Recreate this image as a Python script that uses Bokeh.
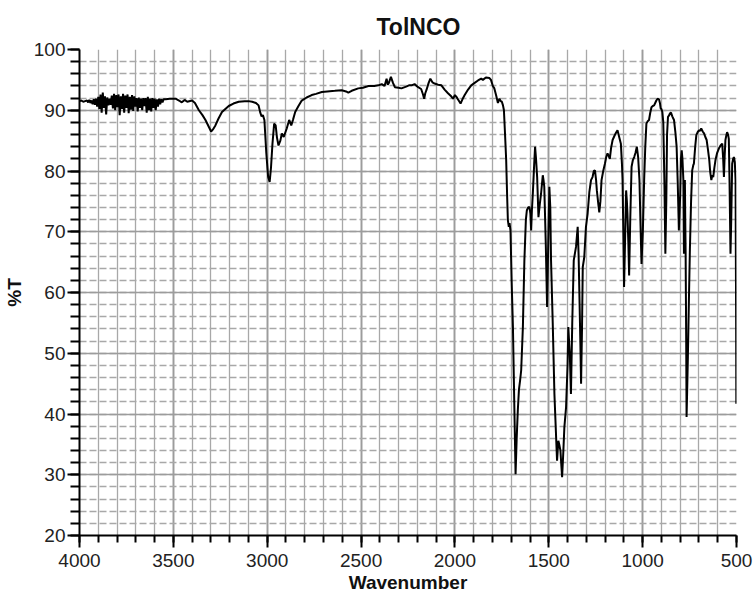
from bokeh.plotting import figure
from bokeh.models import Range1d, SingleIntervalTicker, ColumnDataSource
from bokeh.embed import file_html
from bokeh.resources import INLINE

# Wavenumber (cm-1) and %T
noise_wn = [3960, 3954, 3948, 3942, 3936, 3930, 3924, 3918, 3912, 3906, 3900, 3894,
            3888, 3882, 3876, 3870, 3864, 3858, 3852, 3846, 3840, 3834, 3828, 3822,
            3816, 3810, 3804, 3798, 3792, 3786, 3780, 3774, 3768, 3762, 3756, 3750,
            3744, 3738, 3732, 3726, 3720, 3714, 3708, 3702, 3696, 3690, 3684, 3678,
            3672, 3666, 3660, 3654, 3648, 3642, 3636, 3630, 3624, 3618, 3612, 3606,
            3600, 3594, 3588, 3582, 3576, 3570, 3564, 3558, 3552]
noise_t = [91.6, 91.3, 91.7, 91.2, 91.6, 91.0, 91.8, 90.9, 91.9, 90.6, 92.2, 90.2,
           92.6, 89.6, 92.9, 90.4, 92.3, 89.3, 92.1, 90.8, 91.9, 90.9, 92.4, 90.3,
           92.7, 90.0, 92.5, 90.5, 92.6, 89.2, 92.3, 90.2, 92.7, 89.6, 92.4, 90.4,
           92.6, 89.5, 92.2, 90.1, 92.5, 89.9, 92.3, 90.6, 92.0, 89.8, 92.1, 90.4,
           91.9, 90.0, 92.0, 90.7, 92.0, 89.6, 92.2, 90.0, 91.9, 89.8, 92.0, 90.4,
           91.9, 90.0, 91.8, 90.6, 91.9, 91.0, 91.8, 91.3, 91.8]

start_wn = [4000, 3990, 3980, 3970]
start_t = [91.5, 91.6, 91.4, 91.5]

main_wn = [3540, 3520, 3500, 3488, 3470, 3455, 3440, 3426, 3400, 3385, 3364, 3345,
           3329, 3310, 3299, 3290, 3276, 3260, 3241, 3220, 3205, 3180, 3152, 3120,
           3099, 3080, 3060, 3046, 3037, 3030, 3023, 3015, 3005, 2995, 2987, 2980,
           2972, 2963, 2955, 2948, 2940, 2930, 2922, 2912, 2896, 2883, 2872, 2862,
           2851, 2835, 2816, 2790, 2763, 2740, 2709, 2680, 2640, 2603, 2580, 2568,
           2550, 2515, 2490, 2461, 2430, 2408, 2390, 2375, 2364, 2358, 2352, 2341,
           2330, 2320, 2300, 2285, 2260, 2245, 2231, 2215, 2196, 2180, 2170, 2164,
           2158, 2152, 2140, 2131, 2120, 2108, 2090, 2072, 2055, 2037, 2020, 2010,
           2000, 1992, 1980, 1970, 1960, 1948, 1930, 1913, 1895, 1877, 1860, 1851,
           1835, 1816, 1808, 1798, 1790, 1780, 1771, 1763, 1756, 1750, 1744, 1739,
           1733, 1727, 1722, 1718, 1713, 1709, 1704, 1698, 1691, 1684, 1677, 1671,
           1665, 1659, 1653, 1647, 1638, 1630, 1622, 1617, 1610, 1603, 1598, 1594,
           1590, 1585, 1578, 1573, 1568, 1562, 1555, 1548, 1541, 1532, 1528, 1524,
           1516, 1509, 1503, 1497, 1492, 1488, 1479, 1470, 1462, 1456, 1449, 1443,
           1438, 1433, 1429, 1423, 1417, 1408, 1400, 1396, 1392, 1388, 1382, 1375,
           1367, 1355, 1346, 1341, 1337, 1332, 1328, 1323, 1319, 1311, 1302, 1293,
           1284, 1275, 1267, 1260, 1254, 1248, 1244, 1236, 1231, 1225, 1219, 1210,
           1201, 1194, 1187, 1181, 1175, 1168, 1160, 1150, 1142, 1134, 1125, 1116,
           1110, 1107, 1103, 1099, 1094, 1088, 1084, 1081, 1076, 1072, 1066, 1059,
           1052, 1045, 1038, 1031, 1024, 1017, 1012, 1006, 999, 992, 986, 980,
           973, 966, 960, 953, 946, 939, 933, 927, 920, 913, 908, 904,
           900, 895, 890, 884, 879, 874, 870, 865, 860, 854, 849, 842,
           833, 826, 819, 813, 807, 800, 796, 792, 788, 783, 780, 777,
           775, 773, 771, 768, 766, 762, 759, 754, 748, 742, 736, 730,
           727, 720, 714, 707, 700, 694, 688, 680, 673, 666, 659, 652,
           645, 640, 634, 629, 624, 618, 612, 603, 594, 585, 576, 571,
           567, 563, 559, 554, 550, 545, 541, 537, 532, 528, 523, 518,
           514, 509, 505, 502, 501, 500]
main_t = [91.8, 91.9, 91.9, 91.9, 91.6, 91.3, 91.7, 91.4, 91.6, 91.2, 90.0, 89.2,
          88.4, 87.2, 86.5, 86.8, 87.5, 88.6, 89.7, 90.3, 90.7, 91.1, 91.4, 91.5,
          91.5, 91.4, 91.2, 90.8, 89.6, 89.0, 89.2, 88.4, 83.0, 79.0, 78.2, 80.5,
          84.5, 87.8, 87.5, 85.5, 84.2, 85.0, 86.2, 85.6, 87.0, 88.4, 87.5, 88.5,
          89.7, 90.6, 91.6, 92.1, 92.5, 92.7, 93.0, 93.1, 93.2, 93.3, 93.1, 92.9,
          93.2, 93.6, 93.7, 94.0, 94.0, 94.1, 94.3, 94.0, 95.2, 94.2, 94.5, 95.5,
          94.5, 93.8, 93.7, 93.6, 93.9, 94.1, 94.1, 94.3, 93.8, 93.5, 92.6, 91.9,
          92.8, 93.3, 94.5, 95.2, 94.6, 94.4, 94.2, 94.1, 93.4, 92.8, 92.3, 91.9,
          92.5, 92.2, 91.6, 91.1, 91.8, 92.5, 93.4, 94.1, 94.5, 94.9, 95.2, 95.0,
          95.4, 95.3, 95.0, 94.0, 93.6, 92.4, 91.2, 91.9, 91.5, 91.4, 90.8, 90.0,
          86.0, 81.8, 76.0, 71.9, 70.8, 71.4, 70.2, 62.0, 54.3, 42.0, 30.1, 36.0,
          40.6, 44.0, 45.5, 47.2, 54.3, 65.3, 72.0, 73.5, 74.0, 74.1, 73.0, 70.2,
          73.5, 76.3, 81.0, 84.0, 82.0, 79.0, 72.4, 74.5, 76.3, 79.3, 78.5, 77.4,
          68.0, 57.6, 68.0, 77.4, 74.0, 65.3, 55.0, 43.3, 37.0, 32.3, 35.6, 34.8,
          34.0, 31.5, 29.6, 33.5, 37.8, 41.1, 48.0, 54.3, 52.0, 49.9, 43.3, 55.0,
          65.3, 67.5, 70.8, 66.0, 59.8, 52.0, 45.0, 54.0, 64.2, 65.8, 70.8, 73.0,
          76.5, 78.5, 79.0, 80.0, 80.1, 78.5, 76.8, 74.5, 73.2, 75.0, 78.5, 80.0,
          81.2, 82.3, 82.9, 82.5, 82.0, 83.8, 85.1, 85.8, 86.3, 86.7, 85.6, 84.5,
          81.0, 78.5, 70.0, 60.9, 68.0, 76.8, 75.0, 73.0, 68.0, 62.8, 72.0, 80.7,
          81.8, 82.3, 83.0, 84.0, 82.3, 78.5, 72.0, 64.7, 70.0, 78.5, 84.0, 87.8,
          88.2, 88.4, 89.5, 90.5, 90.7, 90.8, 91.2, 91.6, 91.9, 91.8, 91.2, 90.3,
          90.2, 89.7, 88.0, 78.0, 66.4, 75.0, 86.0, 88.9, 89.1, 89.5, 89.6, 89.0,
          88.4, 86.5, 84.0, 78.0, 70.2, 76.0, 82.0, 83.4, 82.0, 78.5, 66.4, 72.0,
          78.5, 72.0, 66.4, 52.0, 39.5, 45.0, 49.4, 58.0, 67.5, 75.0, 80.1, 81.0,
          81.2, 84.0, 85.9, 86.4, 86.7, 86.6, 87.0, 86.5, 86.2, 85.6, 85.1, 83.5,
          81.8, 79.8, 78.5, 79.3, 79.0, 80.5, 81.8, 83.0, 83.7, 84.2, 84.5, 82.0,
          79.0, 82.5, 85.1, 85.9, 86.4, 86.0, 85.3, 78.0, 66.4, 72.0, 81.2, 82.0,
          82.3, 81.5, 78.5, 55.0, 41.7, 49.4]

wavenumber = start_wn + noise_wn + main_wn
transmittance = start_t + noise_t + main_t

FONT = "Liberation Sans"

p = figure(width=755, height=595, output_backend="svg", toolbar_location=None,
           x_range=Range1d(4000, 500), y_range=Range1d(20, 100),
           min_border_left=77, min_border_right=19, min_border_top=49,
           min_border_bottom=60)
p.title.text = "TolNCO"
p.title.align = "left"
p.title.offset = 297
p.title.standoff = 20
p.title.text_font = FONT
p.title.text_font_size = "23px"
p.title.text_font_style = "bold"
p.title.text_color = "#111111"
p.outline_line_color = None
p.background_fill_color = "white"
p.border_fill_color = "white"

xt = SingleIntervalTicker(interval=500, num_minor_ticks=5)
yt = SingleIntervalTicker(interval=10, num_minor_ticks=5)
p.xaxis.ticker = xt
p.yaxis.ticker = yt
p.xgrid.ticker = xt
p.ygrid.ticker = yt

for ax in (p.xaxis, p.yaxis):
    ax.axis_line_color = "black"
    ax.axis_line_width = 2
    ax.major_tick_line_color = "black"
    ax.major_tick_line_width = 2
    ax.minor_tick_line_color = "black"
    ax.minor_tick_line_width = 2
    ax.major_tick_in = 0
    ax.minor_tick_in = 0
    ax.major_label_text_font = FONT
    ax.major_label_text_font_size = "19px"
    ax.major_label_text_color = "#222222"
    ax.axis_label_text_font = FONT
    ax.axis_label_text_font_size = "19px"
    ax.axis_label_text_font_style = "bold"
    ax.axis_label_text_color = "#111111"

p.xaxis.major_tick_out = 12
p.xaxis.minor_tick_out = 7
p.xaxis.major_label_standoff = 6
p.xaxis.axis_label = "Wavenumber"
p.xaxis.axis_label_standoff = 2

p.yaxis.major_tick_out = 12
p.yaxis.minor_tick_out = 9
p.yaxis.major_label_standoff = 2
p.yaxis.axis_label = "%T"
p.yaxis.axis_label_standoff = 6

p.ygrid.grid_line_color = "#9c9c9c"
p.ygrid.grid_line_width = 1.6
p.ygrid.minor_grid_line_color = "#a8a8a8"
p.ygrid.minor_grid_line_width = 1.3
p.ygrid.minor_grid_line_dash = "7 3"
p.ygrid.bounds = (20, 99)

p.xgrid.grid_line_color = "#9c9c9c"
p.xgrid.grid_line_width = 1.8
p.xgrid.minor_grid_line_color = "#a8a8a8"
p.xgrid.minor_grid_line_width = 1.3
p.xgrid.bounds = (501, 4000)

src = ColumnDataSource(dict(x=wavenumber, y=transmittance))
p.line("x", "y", source=src, line_color="black", line_width=2)

open("out.html", "w").write(file_html(p, INLINE))
